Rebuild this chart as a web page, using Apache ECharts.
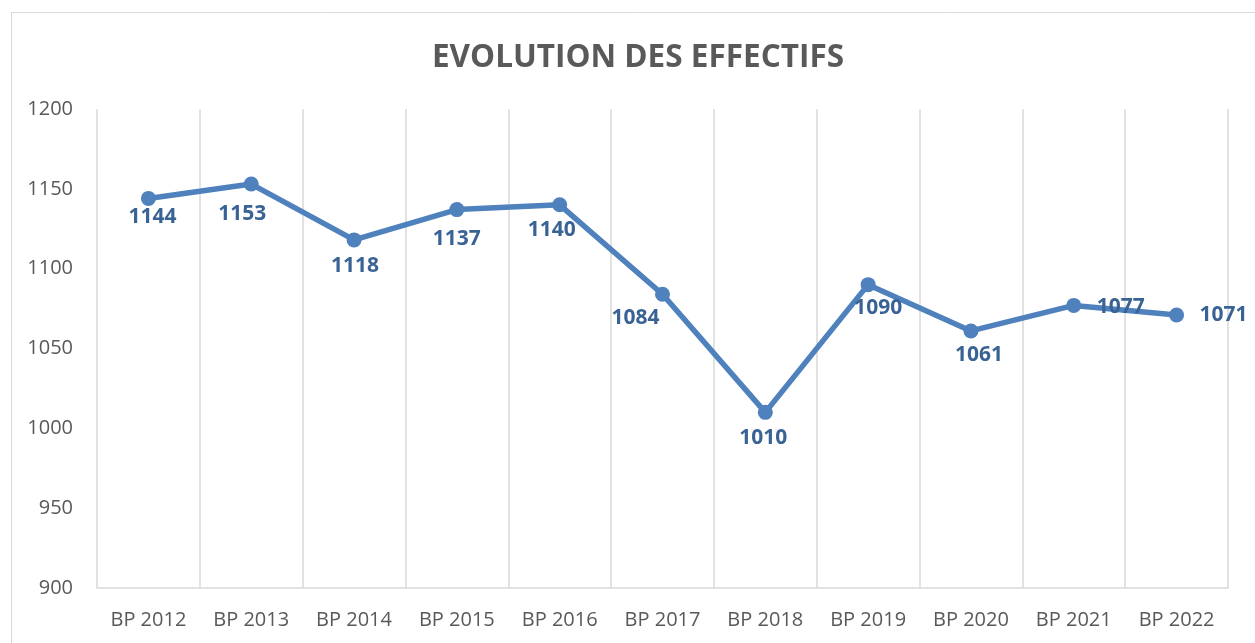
<!DOCTYPE html>
<html>
<head>
<meta charset="utf-8">
<script src="https://cdn.jsdelivr.net/npm/echarts@6/dist/echarts.min.js"></script>
<style>
html,body{margin:0;padding:0;background:#fff;}
#chart{width:1255px;height:643px;}
</style>
</head>
<body>
<div id="chart"></div>
<script>
const categories = ['BP 2012','BP 2013','BP 2014','BP 2015','BP 2016','BP 2017','BP 2018','BP 2019','BP 2020','BP 2021','BP 2022'];
const effectifs = [1144, 1153, 1118, 1137, 1140, 1084, 1010, 1090, 1061, 1077, 1071];
const yTicks = { min: 900, max: 1200, interval: 50 };
// label placement offsets (style only)
const labelOffsets = [[4,19],[-9,30],[1,26],[0,29],[-8,25],[-27,24],[-2,26],[10,23],[8,24],[47,2],[47,0]];

const chart = echarts.init(document.getElementById('chart'));
const font = "'Open Sans', 'Noto Sans', sans-serif";
chart.setOption({
  animation: false,
  backgroundColor: '#ffffff',
  title: {
    text: 'EVOLUTION DES EFFECTIFS',
    left: 633, top: 37, textAlign: 'center',
    textStyle: { fontFamily: font, fontWeight: 'bold', fontSize: 31.5, color: '#595959' }
  },
  graphic: [{
    type: 'rect', left: 9, top: 10, silent: true, z: -1,
    shape: { width: 1260, height: 650 },
    style: { fill: 'none', stroke: '#d9d9d9', lineWidth: 1 }
  }],
  grid: { left: 97, right: 27, top: 109, bottom: 55, containLabel: false, outerBoundsMode: 'none' },
  xAxis: {
    type: 'category', data: categories, boundaryGap: true,
    axisTick: { show: false },
    axisLine: { lineStyle: { color: '#d9d9d9', width: 1.5 } },
    splitLine: { show: true, interval: 0, lineStyle: { color: '#d9d9d9', width: 1.5 } },
    axisLabel: { interval: 0, hideOverlap: false, margin: 22, fontFamily: font, fontSize: 20, color: '#595959' }
  },
  yAxis: {
    type: 'value', min: yTicks.min, max: yTicks.max, interval: yTicks.interval,
    axisLine: { show: false }, axisTick: { show: false },
    splitLine: { show: false },
    axisLabel: { margin: 24, fontFamily: font, fontSize: 20, color: '#595959', formatter: v => String(v) }
  },
  series: [{
    type: 'line',
    data: effectifs.map((v, i) => ({ value: v, label: { offset: labelOffsets[i] } })),
    symbol: 'circle', symbolSize: 15,
    lineStyle: { color: '#4F81BD', width: 5.5 },
    itemStyle: { color: '#4F81BD' },
    label: {
      show: true, position: 'inside',
      fontFamily: font, fontWeight: 'bold', fontSize: 21, color: '#3A6395'
    }
  }]
});
</script>
</body>
</html>
